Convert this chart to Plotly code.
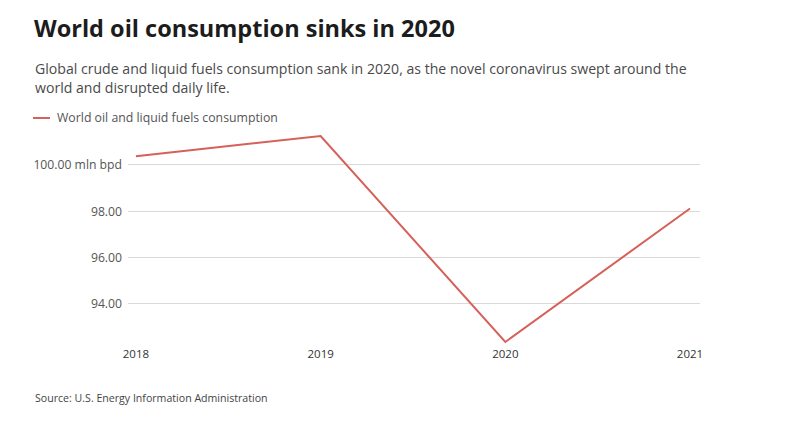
import plotly.graph_objects as go

years = [2018, 2019, 2020, 2021]
consumption = [100.38, 101.25, 92.35, 98.12]
tick_vals = [94, 96, 98, 100]
tick_text = ["94.00", "96.00", "98.00", "100.00 mln bpd"]
series_name = "World oil and liquid fuels consumption"
title = "World oil consumption sinks in 2020"
subtitle_lines = [
    "Global crude and liquid fuels consumption sank in 2020, as the novel coronavirus swept around the",
    "world and disrupted daily life.",
]
source = "Source: U.S. Energy Information Administration"

W, H = 796, 426
L, R, T, B = 128, 96, 130, 81
PW, PH = W - L - R, H - T - B
RED = "#d6605a"
FONT = "Open Sans"

def px(x):
    return (x - L) / PW

def py(y):
    return (H - B - y) / PH

fig = go.Figure()
fig.add_trace(go.Scatter(
    x=years, y=consumption, mode="lines", name=series_name,
    line=dict(color=RED, width=2), showlegend=False, hoverinfo="x+y",
))

annotations = [
    dict(text=f"<b>{title}</b>", x=px(32), y=py(28), xanchor="left", yanchor="middle",
         font=dict(family=FONT, size=23.5, color="#1c1c1c")),
    dict(text=subtitle_lines[0], x=px(33), y=py(68), xanchor="left", yanchor="middle",
         font=dict(family=FONT, size=14.1, color="#4a4a4a")),
    dict(text=subtitle_lines[1], x=px(33), y=py(88), xanchor="left", yanchor="middle",
         font=dict(family=FONT, size=14.1, color="#4a4a4a")),
    dict(text=series_name, x=px(55), y=py(118), xanchor="left", yanchor="middle",
         font=dict(family=FONT, size=12.3, color="#555")),
    dict(text=source, x=px(33), y=py(398), xanchor="left", yanchor="middle",
         font=dict(family=FONT, size=10.6, color="#444")),
]
for a in annotations:
    a.update(xref="paper", yref="paper", showarrow=False)

fig.update_layout(
    width=W, height=H,
    margin=dict(l=L, r=R, t=T, b=B, pad=0),
    paper_bgcolor="white", plot_bgcolor="white",
    font=dict(family=FONT, size=11, color="#555"),
    annotations=annotations,
    shapes=[dict(type="line", xref="paper", yref="paper",
                 x0=px(33), x1=px(50), y0=py(118), y1=py(118),
                 line=dict(color=RED, width=2))],
    xaxis=dict(range=[2017.957, 2021.054], tickvals=years, ticktext=[str(y) for y in years],
               showgrid=False, zeroline=False, showline=False, ticks="",
               tickfont=dict(family=FONT, size=11.5, color="#333")),
    yaxis=dict(range=[92.22, 101.51], tickvals=tick_vals, ticktext=tick_text,
               showgrid=True, gridcolor="#d9d9d9", gridwidth=1, zeroline=False,
               showline=False, ticks="", ticklabelstandoff=5,
               tickfont=dict(family=FONT, size=12.2, color="#555")),
)

fig.write_html("out.html")
